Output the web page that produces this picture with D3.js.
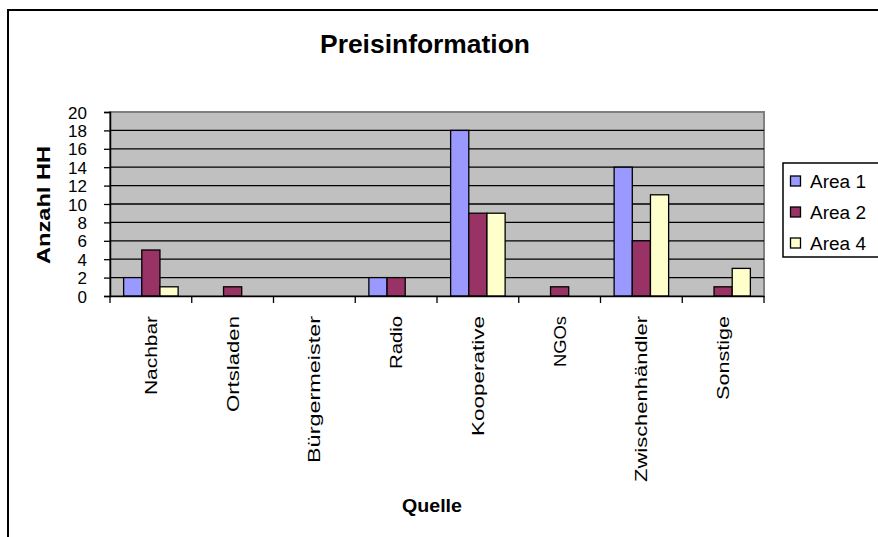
<!DOCTYPE html>
<html>
<head>
<meta charset="utf-8">
<script src="https://cdn.jsdelivr.net/npm/d3@7"></script>
<style>
  html, body { margin: 0; padding: 0; background: #fff; }
  svg { display: block; }
  text { font-family: "Liberation Sans", Arial, sans-serif; fill: #000; }
</style>
</head>
<body>
<svg id="chart" width="878" height="537"></svg>
<script>
const title = "Preisinformation";
const categories = ["Nachbar", "Ortsladen", "Bürgermeister", "Radio", "Kooperative", "NGOs", "Zwischenhändler", "Sonstige"];
const seriesNames = ["Area 1", "Area 2", "Area 4"];
const area1 = [2, 0, 0, 2, 18, 0, 14, 0];
const area2 = [5, 1, 0, 2, 9, 1, 6, 1];
const area4 = [1, 0, 0, 0, 9, 0, 11, 3];
const yTicks = [0, 2, 4, 6, 8, 10, 12, 14, 16, 18, 20];
const colors = ["#9999FF", "#993366", "#FFFFCC"];
const yTitle = "Anzahl HH";
const xTitle = "Quelle";

const seriesValues = [area1, area2, area4];
const catLabelLen = {"Nachbar":79, "Ortsladen":96, "Bürgermeister":147, "Radio":53, "Kooperative":120, "NGOs":51, "Zwischenhändler":166, "Sonstige":84};

const svg = d3.select("#chart");
const pLeft = 110, pRight = 764, pTop = 112, pBottom = 296;

// outer chart border (extends past right/bottom edges)
svg.append("rect").attr("x", 8).attr("y", 10).attr("width", 1000).attr("height", 1000)
  .attr("fill", "#fff").attr("stroke", "#000").attr("stroke-width", 2);

const x = d3.scaleBand().domain(categories).range([pLeft, pRight]).paddingInner(0).paddingOuter(0);
// Excel gap width 150%: group = 3 bars, 0.75 bar each side
const barW = x.bandwidth() / 4.5;
const y = d3.scaleLinear().domain([0, 20]).range([pBottom, pTop]);

// plot background
svg.append("rect").attr("x", pLeft).attr("y", pTop).attr("width", pRight - pLeft).attr("height", pBottom - pTop)
  .attr("fill", "#C0C0C0").attr("stroke", "#808080").attr("stroke-width", 2);

// gridlines
svg.append("g").selectAll("line").data(yTicks.filter(t => t > 0 && t < 20)).join("line")
  .attr("x1", pLeft).attr("x2", pRight).attr("y1", d => y(d)).attr("y2", d => y(d))
  .attr("stroke", "#000").attr("stroke-width", 1.3);

// bars
const barData = [];
categories.forEach((c, i) => {
  seriesNames.forEach((s, j) => {
    barData.push({cat: c, series: j, value: seriesValues[j][i]});
  });
});
svg.append("g").selectAll("rect").data(barData.filter(d => d.value > 0)).join("rect")
  .attr("x", d => x(d.cat) + 0.75 * barW + d.series * barW)
  .attr("y", d => y(d.value))
  .attr("width", barW)
  .attr("height", d => y(0) - y(d.value))
  .attr("fill", d => colors[d.series])
  .attr("stroke", "#000").attr("stroke-width", 1.3);

// y axis
const yAxis = d3.axisLeft(y).tickValues(yTicks).tickSize(6).tickFormat(d3.format("d"));
const gy = svg.append("g").attr("transform", `translate(${pLeft},0)`).call(yAxis);
gy.select(".domain").attr("stroke", "#000").attr("stroke-width", 1.5);
gy.selectAll(".tick line").attr("stroke", "#000").attr("stroke-width", 1.3);
gy.selectAll(".tick text").attr("font-size", 17).attr("font-family", "Liberation Sans, Arial, sans-serif")
  .attr("dy", "0.36em").attr("x", -23);

// x axis
const xAxis = d3.axisBottom(x).tickSize(0).tickFormat("");
const gx = svg.append("g").attr("transform", `translate(0,${pBottom})`).call(xAxis);
gx.select(".domain").attr("stroke", "#000").attr("stroke-width", 1.5);
const boundaries = categories.map(c => x(c)).concat([pRight]);
gx.selectAll(".bt").data(boundaries).join("line").attr("class", "bt")
  .attr("x1", d => d).attr("x2", d => d).attr("y1", 0).attr("y2", 7)
  .attr("stroke", "#000").attr("stroke-width", 1.3);

// category labels (rotated)
svg.append("g").selectAll("text").data(categories).join("text")
  .attr("transform", d => `translate(${x(d) + x.bandwidth() / 2 + 6},316) rotate(-90)`)
  .attr("text-anchor", "end")
  .attr("font-size", 17)
  .attr("textLength", d => catLabelLen[d])
  .attr("lengthAdjust", "spacingAndGlyphs")
  .text(d => d);

// title
svg.append("text").attr("x", 425).attr("y", 53).attr("text-anchor", "middle")
  .attr("font-size", 25).attr("font-weight", "bold")
  .attr("textLength", 210).attr("lengthAdjust", "spacingAndGlyphs").text(title);

// y title
svg.append("text").attr("transform", `translate(50,205) rotate(-90)`).attr("text-anchor", "middle")
  .attr("font-size", 18).attr("font-weight", "bold")
  .attr("textLength", 118).attr("lengthAdjust", "spacingAndGlyphs").text(yTitle);

// x title
svg.append("text").attr("x", 432).attr("y", 512).attr("text-anchor", "middle")
  .attr("font-size", 18).attr("font-weight", "bold")
  .attr("textLength", 60).attr("lengthAdjust", "spacingAndGlyphs").text(xTitle);

// legend
const lg = svg.append("g");
lg.append("rect").attr("x", 783).attr("y", 163).attr("width", 200).attr("height", 94)
  .attr("fill", "#fff").attr("stroke", "#000").attr("stroke-width", 1.5);
const ly = [181, 212, 243];
seriesNames.forEach((s, i) => {
  lg.append("rect").attr("x", 790.5).attr("y", ly[i] - 5).attr("width", 10).attr("height", 10)
    .attr("fill", colors[i]).attr("stroke", "#000").attr("stroke-width", 1.3);
  lg.append("text").attr("x", 810).attr("y", ly[i] + 6.5).attr("font-size", 18)
    .attr("textLength", 56).attr("lengthAdjust", "spacingAndGlyphs").text(s);
});
</script>
</body>
</html>
